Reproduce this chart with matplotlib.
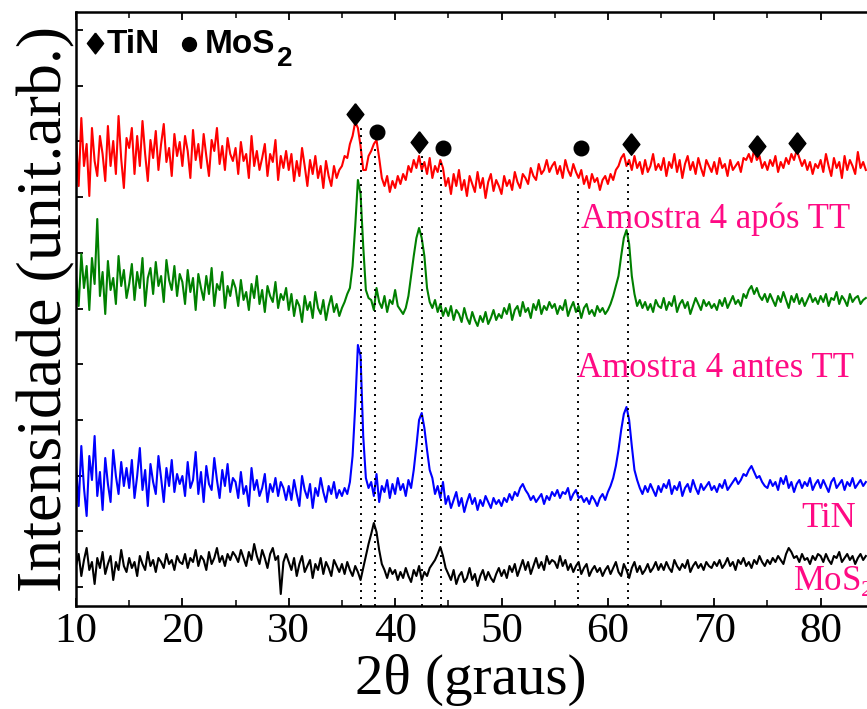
import numpy as np
import matplotlib
matplotlib.use("Agg")
import matplotlib.pyplot as plt
from matplotlib.ticker import MultipleLocator, FixedLocator, NullFormatter

plt.rcParams['font.family'] = ['Liberation Serif', 'DejaVu Serif']
plt.rcParams['mathtext.fontset'] = 'custom'
plt.rcParams['mathtext.rm'] = 'Liberation Serif'

# 2-theta scan: 10 to 84.25 degrees, step 0.25
scan_start, scan_step, n_points = 10.0, 0.25, 298
two_theta = scan_start + scan_step * np.arange(n_points)

# Stacked intensities (arbitrary units, already offset for display)
apos_tt = [  # Amostra 4 após TT (red)
    470, 420, 488, 440, 462, 410, 478, 445, 430, 470, 452, 425, 480, 440, 465, 432, 490, 447, 418, 468,
    458, 478, 432, 470, 440, 485, 452, 425, 466, 448, 475, 436, 462, 482, 444, 458, 430, 472, 450, 464,
    440, 470, 455, 428, 476, 446, 462, 438, 472, 450, 430, 466, 455, 478, 442, 460, 436, 468, 452, 445,
    458, 432, 464, 445, 452, 428, 470, 440, 455, 436, 448, 462, 430, 452, 444, 466, 426, 450, 438, 455,
    436, 452, 425, 445, 430, 458, 440, 420, 446, 432, 450, 428, 440, 418, 445, 430, 420, 440, 428, 436,
    440, 450, 448, 462, 470, 484, 478, 460, 436, 436, 450, 455, 462, 466, 448, 428, 420, 430, 414, 425,
    418, 430, 422, 432, 426, 440, 434, 446, 438, 450, 436, 444, 432, 448, 428, 440, 434, 446, 438, 420,
    428, 412, 432, 420, 436, 416, 426, 410, 430, 422, 414, 434, 418, 428, 408, 424, 432, 415, 426, 420,
    412, 430, 420, 426, 416, 434, 424, 418, 432, 428, 422, 438, 430, 426, 442, 432, 436, 446, 434, 440,
    444, 432, 440, 428, 446, 436, 430, 442, 434, 428, 436, 422, 430, 418, 432, 424, 428, 416, 426, 430,
    422, 432, 426, 436, 440, 448, 452, 440, 446, 436, 450, 438, 444, 432, 446, 434, 440, 452, 436, 442,
    436, 448, 430, 444, 438, 452, 434, 446, 428, 442, 450, 436, 444, 432, 448, 438, 430, 446, 440, 434,
    444, 432, 448, 438, 442, 430, 446, 436, 440, 444, 434, 448, 446, 452, 444, 456, 446, 450, 438, 444,
    436, 446, 440, 450, 434, 444, 438, 448, 442, 452, 446, 456, 448, 440, 446, 436, 444, 432, 442, 438,
    446, 434, 452, 440, 430, 448, 438, 444, 428, 450, 436, 446, 440, 432, 454, 438, 444, 436,
]
antes_tt = [  # Amostra 4 antes TT (green)
    330, 300, 352, 318, 340, 296, 348, 322, 387, 310, 334, 292, 345, 316, 328, 302, 350, 320, 336, 308,
    322, 342, 306, 334, 318, 348, 300, 328, 338, 312, 344, 320, 330, 304, 346, 326, 316, 340, 310, 332,
    324, 302, 336, 314, 328, 296, 332, 318, 306, 330, 312, 338, 300, 322, 316, 334, 298, 320, 310, 326,
    318, 300, 326, 306, 314, 296, 322, 308, 330, 302, 316, 294, 320, 310, 304, 324, 298, 312, 306, 318,
    296, 312, 290, 306, 300, 284, 310, 296, 304, 288, 314, 298, 292, 306, 286, 300, 310, 294, 302, 290,
    298, 304, 312, 318, 340, 380, 426, 412, 360, 316, 308, 306, 296, 318, 304, 298, 310, 294, 306, 302,
    316, 300, 296, 292, 298, 310, 330, 350, 368, 378, 368, 350, 318, 304, 298, 306, 294, 302, 290, 298,
    290, 300, 286, 296, 292, 284, 298, 288, 282, 294, 286, 280, 290, 284, 294, 282, 288, 296, 286, 292,
    288, 298, 292, 302, 286, 296, 300, 290, 304, 294, 298, 288, 302, 296, 306, 292, 300, 296, 304, 298,
    302, 292, 300, 296, 306, 290, 298, 304, 294, 300, 288, 298, 302, 292, 296, 290, 300, 294, 298, 292,
    296, 302, 310, 320, 330, 350, 368, 376, 362, 330, 312, 300, 306, 298, 304, 296, 302, 294, 306, 300,
    298, 308, 296, 304, 300, 310, 294, 302, 306, 298, 304, 292, 300, 308, 302, 296, 306, 300, 304, 298,
    302, 296, 306, 300, 308, 298, 304, 310, 302, 306, 300, 312, 308, 316, 320, 312, 318, 310, 306, 312,
    304, 312, 306, 300, 310, 304, 314, 306, 298, 310, 304, 312, 302, 308, 300, 306, 312, 304, 308, 302,
    310, 304, 312, 300, 308, 306, 314, 302, 310, 306, 300, 312, 304, 308, 310, 302, 306, 308,
]
tin = [  # TiN (blue)
    140, 100, 160, 118, 90, 150, 126, 170, 110, 134, 96, 148, 122, 104, 156, 130, 112, 144, 120, 138,
    118, 146, 108, 130, 158, 116, 136, 100, 142, 124, 112, 150, 128, 104, 138, 120, 146, 114, 132, 122,
    130, 110, 144, 118, 126, 154, 112, 134, 104, 140, 122, 116, 148, 126, 108, 136, 120, 142, 114, 128,
    124, 108, 134, 112, 120, 100, 138, 116, 126, 110, 118, 132, 104, 122, 114, 128, 110, 124, 118, 106,
    120, 106, 126, 112, 100, 130, 116, 108, 122, 98, 118, 110, 128, 114, 104, 120, 112, 124, 108, 116,
    110, 118, 112, 124, 150, 200, 261, 250, 170, 128, 118, 124, 110, 132, 104, 120, 114, 126, 108, 122,
    112, 128, 116, 122, 110, 126, 118, 136, 160, 186, 193, 178, 156, 136, 128, 112, 120, 108, 124, 102,
    110, 98, 106, 114, 100, 108, 94, 104, 112, 102, 108, 96, 106, 100, 110, 104, 98, 108, 102, 106,
    100, 108, 104, 112, 106, 114, 110, 118, 122, 116, 112, 106, 110, 104, 108, 112, 102, 110, 106, 114,
    110, 116, 108, 114, 112, 118, 106, 112, 116, 108, 110, 104, 108, 102, 110, 106, 100, 108, 112, 106,
    114, 120, 128, 140, 156, 176, 192, 199, 186, 160, 136, 126, 118, 112, 120, 114, 122, 116, 110, 120,
    114, 122, 118, 126, 112, 120, 116, 124, 110, 118, 122, 114, 126, 118, 112, 122, 116, 120, 124, 116,
    120, 114, 122, 118, 126, 116, 120, 124, 128, 122, 126, 132, 130, 136, 140, 134, 128, 130, 124, 120,
    118, 126, 120, 124, 116, 128, 122, 130, 118, 124, 114, 122, 126, 118, 124, 120, 128, 116, 122, 126,
    118, 126, 120, 114, 124, 128, 118, 122, 126, 116, 124, 120, 128, 118, 122, 126, 120, 124,
]
mos2 = [  # MoS2 (black)
    40, 52, 30, 46, 58, 36, 44, 22, 48, 38, 54, 32, 42, 50, 26, 44, 36, 56, 40, 34,
    48, 38, 44, 30, 50, 42, 36, 54, 40, 46, 34, 48, 44, 38, 52, 42, 46, 36, 50, 44,
    42, 52, 38, 48, 44, 56, 40, 50, 46, 36, 54, 42, 48, 58, 44, 50, 40, 52, 46, 54,
    50, 44, 56, 48, 40, 54, 46, 62, 50, 42, 56, 48, 38, 52, 58, 46, 50, 12, 44, 52,
    44, 36, 48, 30, 42, 50, 34, 40, 46, 28, 42, 36, 48, 32, 44, 38, 30, 46, 40, 34,
    42, 32, 44, 36, 30, 40, 34, 26, 38, 50, 62, 72, 83, 74, 56, 42, 36, 28, 38, 32,
    36, 26, 34, 28, 38, 30, 24, 36, 30, 40, 26, 34, 30, 38, 42, 46, 52, 59, 50, 38,
    32, 26, 36, 22, 30, 34, 24, 28, 38, 26, 32, 20, 30, 36, 26, 34, 28, 24, 32, 38,
    30, 36, 28, 40, 34, 42, 30, 38, 46, 36, 44, 32, 40, 48, 38, 44, 36, 50, 42, 46,
    44, 38, 50, 40, 46, 36, 42, 34, 40, 44, 32, 38, 42, 30, 36, 40, 34, 38, 30, 36,
    40, 32, 38, 44, 34, 30, 42, 36, 28, 38, 44, 34, 40, 32, 36, 42, 34, 38, 44, 36,
    42, 36, 44, 38, 34, 46, 40, 36, 42, 38, 46, 34, 40, 44, 38, 42, 36, 44, 40, 38,
    44, 40, 46, 38, 42, 48, 40, 44, 36, 46, 42, 48, 40, 44, 38, 46, 42, 50, 44, 40,
    46, 42, 48, 44, 50, 46, 42, 52, 58, 54, 48, 50, 44, 52, 46, 48, 42, 50, 46, 52,
    50, 44, 52, 46, 42, 50, 48, 54, 44, 48, 52, 46, 50, 42, 48, 52, 46, 50,
]

# Reference reflections (dotted guides) and their upper ends
ref_positions = [36.8, 38.1, 42.5, 44.3, 57.2, 61.9]
ref_tops = [483, 461, 451, 446, 426, 443]

# Phase markers above the top pattern
tin_marks_x = [36.2, 42.2, 62.2, 74.0, 77.8]
tin_marks_y = [492, 464, 462, 460, 463]
mos2_marks_x = [38.3, 44.5, 57.5]
mos2_marks_y = [474, 458, 458]

x_ticks = [10, 20, 30, 40, 50, 60, 70, 80]
y_ticks = [19 + 55.7 * k for k in range(11)]

pink = '#ff0a84'
diamond = [(0, 1), (0.78, 0), (0, -1), (-0.78, 0), (0, 1)]

fig = plt.figure(figsize=(8.67, 7.09), dpi=100)
ax = fig.add_axes([76 / 867, 103 / 709, 851 / 867, 594 / 709])

ax.plot(two_theta, apos_tt, color='#ff0000', lw=1.5)
ax.plot(two_theta, antes_tt, color='#008000', lw=1.5)
ax.plot(two_theta, tin, color='#0000ff', lw=1.5)
ax.plot(two_theta, mos2, color='black', lw=1.5)

ax.vlines(ref_positions, 0, ref_tops, colors='black', linestyles=(0, (1, 2.6)),
          lw=1.4, zorder=3)

ax.plot(tin_marks_x, tin_marks_y, linestyle='none', marker=diamond,
        markersize=15.5, color='black', zorder=4)
ax.plot(mos2_marks_x, mos2_marks_y, linestyle='none', marker='o',
        markersize=10.5, color='black', zorder=4)

# Phase key in the upper left corner
ax.plot([11.8], [563], marker=diamond, markersize=15, color='black')
ax.plot([20.6], [562], marker='o', markersize=10, color='black')
ax.text(12.9, 553, 'TiN', family='Liberation Sans', weight='bold', fontsize=24,
        va='baseline', ha='left')
ax.text(22.1, 553, 'MoS', family='Liberation Sans', weight='bold', fontsize=24,
        va='baseline', ha='left')
ax.text(28.85, 540, '2', family='Liberation Sans', weight='bold', fontsize=20,
        va='baseline', ha='left')

# Curve labels
ax.text(57.5, 378, 'Amostra 4 após TT', color=pink, fontsize=25, va='baseline')
ax.text(57.1, 229, 'Amostra 4 antes TT', color=pink, fontsize=25, va='baseline')
ax.text(78.2, 79, 'TiN', color=pink, fontsize=25, va='baseline')
ax.text(77.4, 16, 'MoS$_2$', color=pink, fontsize=25, va='baseline', clip_on=False)

ax.set_xlim(10, 90)
ax.set_ylim(0, 594)
ax.xaxis.set_major_locator(FixedLocator(x_ticks))
ax.xaxis.set_minor_locator(MultipleLocator(5))
ax.yaxis.set_major_locator(FixedLocator(y_ticks))
ax.yaxis.set_major_formatter(NullFormatter())
ax.tick_params(axis='x', which='major', direction='in', top=True, length=6,
               width=1.3, labelsize=31, pad=5)
ax.tick_params(axis='x', which='minor', direction='in', top=True, length=4,
               width=1.1)
ax.tick_params(axis='y', which='major', direction='in', right=True, length=5,
               width=1.3)
for side in ax.spines.values():
    side.set_linewidth(1.8)

fig.text(471 / 867, 1 - 680 / 709, '2θ (graus)', fontsize=41,
         ha='center', va='center')
fig.text(46 / 867, 1 - 309 / 709, 'Intensidade (unit.arb.)', fontsize=46,
         rotation=90, ha='center', va='center')

fig.savefig('out.png', dpi=100)
